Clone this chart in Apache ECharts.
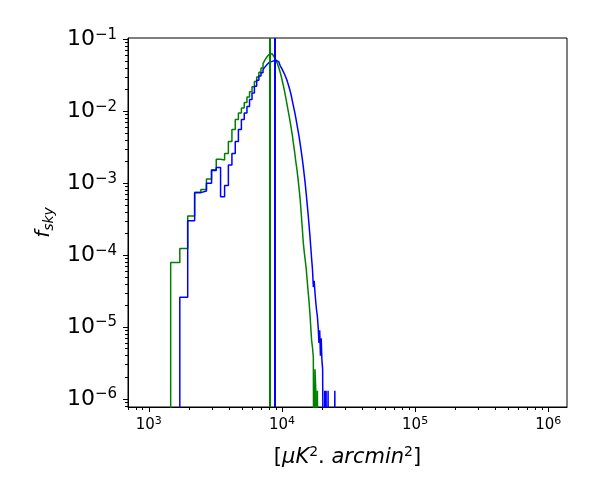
<!DOCTYPE html>
<html>
<head>
<meta charset="utf-8">
<title>fsky histogram</title>
<script src="https://cdn.jsdelivr.net/npm/echarts@6/dist/echarts.min.js"></script>
</head>
<body style="margin:0">
<div id="main" style="width:600px;height:500px;"></div>
<script>
// histogram bins: constant width, first left edge at binStart
var binStart = 1460;
var binWidth = 250;

// f_sky per bin (0 = empty bin)
var greenHist = [7.9e-5, 1.24e-4, 3.5e-4, 7.5e-4, 8.2e-4, 1.15e-3, 1.54e-3, 2.15e-3, 2.1e-3, 2.6e-3,
    3.8e-3, 5.6e-3, 7.7e-3, 9.5e-3, 1.11e-2, 1.33e-2, 1.58e-2, 1.87e-2, 2.2e-2, 2.6e-2,
    3.0e-2, 3.5e-2, 4.0e-2, 4.6e-2, 5.2e-2, 5.7e-2, 6.1e-2, 6.3e-2, 6.2e-2, 5.75e-2,
    5.25e-2, 4.68e-2, 4.07e-2, 3.47e-2, 2.88e-2, 2.34e-2, 1.91e-2, 1.51e-2, 1.2e-2, 9.5e-3,
    7.6e-3, 6.0e-3, 4.7e-3, 3.5e-3, 2.7e-3, 2.0e-3, 1.55e-3, 1.15e-3, 8.3e-4, 5.9e-4,
    3.8e-4, 2.4e-4, 1.5e-4, 1.1e-4, 8.5e-5, 6.5e-5, 4.5e-5, 3.2e-5, 2.3e-5, 1.6e-5,
    1.0e-5, 6.5e-6, 5.2e-6, 3.8e-6, 0, 2.6e-6, 1.3e-6, 0, 1.3e-6, 1.3e-6];

var blueHist = [0, 2.6e-5, 3.0e-4, 7.4e-4, 7.8e-4, 1.0e-3, 1.5e-3, 1.65e-3, 6.5e-4, 9.3e-4,
    1.8e-3, 2.6e-3, 3.8e-3, 5.6e-3, 7.7e-3, 9.5e-3, 1.17e-2, 1.46e-2, 1.8e-2, 2.23e-2,
    2.7e-2, 3.1e-2, 3.45e-2, 3.8e-2, 4.15e-2, 4.45e-2, 4.75e-2, 4.95e-2, 5.1e-2, 5.15e-2,
    5.1e-2, 4.9e-2, 4.6e-2, 4.3e-2, 3.95e-2, 3.6e-2, 3.28e-2, 2.95e-2, 2.63e-2, 2.29e-2,
    2.0e-2, 1.7e-2, 1.41e-2, 1.17e-2, 9.8e-3, 8.1e-3, 6.6e-3, 5.4e-3, 4.4e-3, 3.5e-3,
    2.8e-3, 2.2e-3, 1.7e-3, 1.3e-3, 9.8e-4, 7.2e-4, 5.2e-4, 3.8e-4, 2.7e-4, 1.9e-4,
    1.3e-4, 8.9e-5, 6.3e-5, 3.6e-5, 4.4e-5, 3.0e-5, 2.2e-5, 1.7e-5, 1.4e-5, 1.0e-5,
    6e-6, 9e-6, 4e-6, 7e-6, 3.5e-6, 2.6e-6, 2.6e-6, 0, 1.3e-6, 0,
    1.3e-6, 0, 0, 1.3e-6, 0, 0, 0, 0, 0, 0,
    0, 0, 0, 0, 1.3e-6];

// vertical reference lines
var greenLine = 8165;
var blueLine = 8815;

var xMajor = [1e3, 1e4, 1e5, 1e6];
var yMajor = [1e-6, 1e-5, 1e-4, 1e-3, 1e-2, 1e-1];

var xMin = 698, xMax = 1.383e6;
var yMin = 7.74e-7, yMax = 0.1046;

function minorTicks(lo, hi) {
    var out = [];
    for (var e = Math.floor(Math.log10(lo)); e <= Math.ceil(Math.log10(hi)); e++) {
        for (var m = 2; m <= 9; m++) {
            var v = m * Math.pow(10, e);
            if (v >= lo && v <= hi) out.push(v);
        }
    }
    return out;
}

// matplotlib step outline, empty bins drop below the axis
function stepPoints(hist) {
    var floor = 1e-9;
    var pts = [[binStart, floor]];
    for (var i = 0; i < hist.length; i++) {
        var v = hist[i] > 0 ? hist[i] : floor;
        pts.push([binStart + i * binWidth, v]);
        pts.push([binStart + (i + 1) * binWidth, v]);
    }
    pts.push([binStart + hist.length * binWidth, floor]);
    return pts;
}

function supLabel(v) {
    var e = Math.round(Math.log10(v));
    return '{b|10}{s|' + (e < 0 ? '\u2212' : '') + Math.abs(e) + '}';
}

var font = 'DejaVu Sans';
var chart = echarts.init(document.getElementById('main'));

var option = {
    animation: false,
    grid: {left: 128, right: 33, top: 38, bottom: 93, show: true, borderColor: '#000', borderWidth: 1},
    xAxis: [
        {
            type: 'log', min: xMin, max: xMax, position: 'bottom',
            axisLine: {lineStyle: {color: '#000', width: 1}},
            axisTick: {customValues: xMajor, length: 5, lineStyle: {color: '#000'}},
            splitLine: {show: false},
            axisLabel: {
                customValues: xMajor, margin: 9, formatter: supLabel, color: '#000',
                rich: {
                    b: {fontFamily: font, fontSize: 15, lineHeight: 18, color: '#000'},
                    s: {fontFamily: font, fontSize: 11, lineHeight: 11, verticalAlign: 'top', color: '#000'}
                }
            },
            name: '{n|[}{i|\u03bcK}{p|2}{n|. }{i|arcmin}{p|2}{n|]}',
            nameLocation: 'middle', nameGap: 38,
            nameTextStyle: {
                rich: {
                    n: {fontFamily: font, fontSize: 21, lineHeight: 26, color: '#000'},
                    i: {fontFamily: font, fontSize: 21, lineHeight: 26, fontStyle: 'italic', color: '#000'},
                    p: {fontFamily: font, fontSize: 14, lineHeight: 14, verticalAlign: 'top', color: '#000'}
                }
            }
        },
        {
            type: 'log', min: xMin, max: xMax, position: 'bottom',
            axisLine: {show: false},
            axisTick: {customValues: minorTicks(xMin, xMax), length: 3, lineStyle: {color: '#000'}},
            axisLabel: {show: false},
            splitLine: {show: false}
        }
    ],
    yAxis: [
        {
            type: 'log', min: yMin, max: yMax, position: 'left',
            axisLine: {lineStyle: {color: '#000', width: 1}},
            axisTick: {customValues: yMajor, length: 5, lineStyle: {color: '#000'}},
            splitLine: {show: false},
            axisLabel: {
                customValues: yMajor, margin: 11, formatter: supLabel, color: '#000',
                rich: {
                    b: {fontFamily: font, fontSize: 22, lineHeight: 24, color: '#000'},
                    s: {fontFamily: font, fontSize: 15, lineHeight: 15, verticalAlign: 'top', color: '#000'}
                }
            },
            name: '{f|f}{s|sky}',
            nameLocation: 'middle', nameGap: 72, nameRotate: 90,
            nameTextStyle: {
                rich: {
                    f: {fontFamily: font, fontSize: 20, lineHeight: 24, fontStyle: 'italic', color: '#000'},
                    s: {fontFamily: font, fontSize: 14, lineHeight: 13, verticalAlign: 'bottom', fontStyle: 'italic', color: '#000'}
                }
            }
        },
        {
            type: 'log', min: yMin, max: yMax, position: 'left',
            axisLine: {show: false},
            axisTick: {customValues: minorTicks(yMin, yMax), length: 3, lineStyle: {color: '#000'}},
            axisLabel: {show: false},
            splitLine: {show: false}
        }
    ],
    series: [
        {
            name: 'green', type: 'line', data: stepPoints(greenHist), showSymbol: false, clip: true,
            lineStyle: {color: '#008000', width: 1.5}, silent: true,
            markLine: {
                symbol: 'none', silent: true, label: {show: false},
                lineStyle: {color: '#008000', width: 2, type: 'solid'},
                data: [{xAxis: greenLine}]
            }
        },
        {
            name: 'blue', type: 'line', data: stepPoints(blueHist), showSymbol: false, clip: true,
            lineStyle: {color: '#0000ff', width: 1.5}, silent: true,
            markLine: {
                symbol: 'none', silent: true, label: {show: false},
                lineStyle: {color: '#0000ff', width: 2, type: 'solid'},
                data: [{xAxis: blueLine}]
            }
        }
    ]
};
chart.setOption(option);
</script>
</body>
</html>
